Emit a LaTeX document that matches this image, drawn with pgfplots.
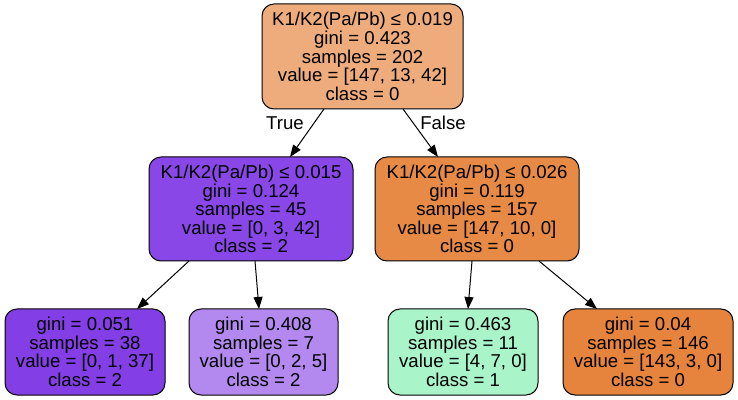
\documentclass[border=0pt]{standalone}
\usepackage{fontspec}
\setmainfont{Liberation Sans}
\usepackage{pgfplots}
\pgfplotsset{compat=1.18}
\usetikzlibrary{arrows.meta}
\definecolor{cRoot}{RGB}{238,172,125}
\definecolor{cNa}{RGB}{138,71,231}
\definecolor{cNb}{RGB}{231,138,70}
\definecolor{cLa}{RGB}{132,62,230}
\definecolor{cLb}{RGB}{179,136,239}
\definecolor{cLc}{RGB}{170,244,201}
\definecolor{cLd}{RGB}{230,132,61}
\begin{document}
\begin{tikzpicture}[every node/.style={font=\fontsize{9.3}{9.3}\selectfont, align=center, inner sep=0pt}]
\begin{axis}[
  width=369pt, height=200pt, scale only axis,
  xmin=0, xmax=738, ymin=0, ymax=400, y dir=reverse,
  hide axis, clip=false,
]
% invisible frame so the picture spans the full 738x400 area
\addplot[draw=none, mark=none] coordinates {(0,0) (738,400)};
% boxes
\addplot[draw=black, line width=0.5pt, fill=cRoot, rounded corners=6pt] coordinates {(262,4) (463,4) (463,109) (262,109)} -- cycle;
\addplot[draw=black, line width=0.5pt, fill=cNa, rounded corners=6pt] coordinates {(149,157) (353,157) (353,261) (149,261)} -- cycle;
\addplot[draw=black, line width=0.5pt, fill=cNb, rounded corners=6pt] coordinates {(375,157) (579,157) (579,261) (375,261)} -- cycle;
\addplot[draw=black, line width=0.5pt, fill=cLa, rounded corners=6pt] coordinates {(5,309) (165,309) (165,395) (5,395)} -- cycle;
\addplot[draw=black, line width=0.5pt, fill=cLb, rounded corners=6pt] coordinates {(189,309) (338,309) (338,395) (189,395)} -- cycle;
\addplot[draw=black, line width=0.5pt, fill=cLc, rounded corners=6pt] coordinates {(388,309) (538,309) (538,395) (388,395)} -- cycle;
\addplot[draw=black, line width=0.5pt, fill=cLd, rounded corners=6pt] coordinates {(563,309) (733,309) (733,395) (563,395)} -- cycle;
% edges
\addplot[black, line width=0.5pt, -{Triangle[length=6pt,width=4.5pt]}] coordinates {(324,109) (290,157)};
\addplot[black, line width=0.5pt, -{Triangle[length=6pt,width=4.5pt]}] coordinates {(403,109) (438,157)};
\addplot[black, line width=0.5pt, -{Triangle[length=6pt,width=4.5pt]}] coordinates {(189,261) (137,309)};
\addplot[black, line width=0.5pt, -{Triangle[length=6pt,width=4.5pt]}] coordinates {(255,261) (259,309)};
\addplot[black, line width=0.5pt, -{Triangle[length=6pt,width=4.5pt]}] coordinates {(472,261) (468,309)};
\addplot[black, line width=0.5pt, -{Triangle[length=6pt,width=4.5pt]}] coordinates {(539,261) (597,309)};
% texts
\node at (axis cs:362.5,56.5) {K1/K2(Pa/Pb) ≤ 0.019\\gini = 0.423\\samples = 202\\value = [147, 13, 42]\\class = 0};
\node at (axis cs:251,209) {K1/K2(Pa/Pb) ≤ 0.015\\gini = 0.124\\samples = 45\\value = [0, 3, 42]\\class = 2};
\node at (axis cs:477,209) {K1/K2(Pa/Pb) ≤ 0.026\\gini = 0.119\\samples = 157\\value = [147, 10, 0]\\class = 0};
\node at (axis cs:85,352) {gini = 0.051\\samples = 38\\value = [0, 1, 37]\\class = 2};
\node at (axis cs:263.5,352) {gini = 0.408\\samples = 7\\value = [0, 2, 5]\\class = 2};
\node at (axis cs:463,352) {gini = 0.463\\samples = 11\\value = [4, 7, 0]\\class = 1};
\node at (axis cs:648,352) {gini = 0.04\\samples = 146\\value = [143, 3, 0]\\class = 0};
\node at (axis cs:285,123) {True};
\node at (axis cs:443,123) {False};
\end{axis}
\end{tikzpicture}
\end{document}
